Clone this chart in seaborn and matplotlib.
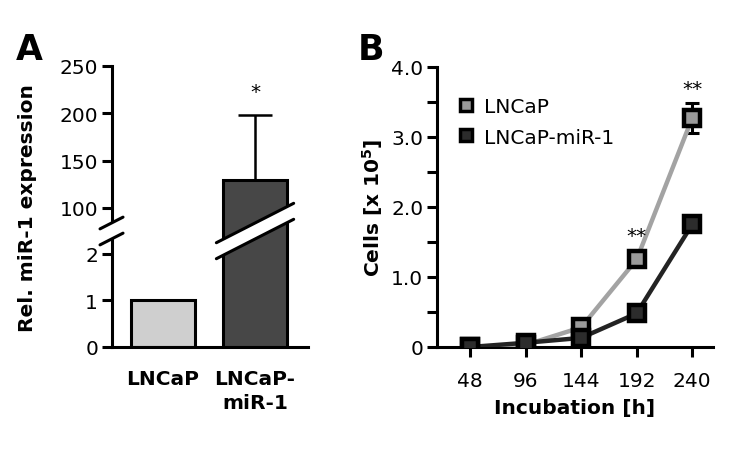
import matplotlib
matplotlib.use("Agg")
import matplotlib.pyplot as plt
from matplotlib.lines import Line2D
from matplotlib.patches import Polygon
from matplotlib.transforms import IdentityTransform
import numpy as np
import pandas as pd
import seaborn as sns

# panel A: relative miR-1 expression
categories = ["LNCaP", "LNCaP-\nmiR-1"]
expr = [1.0, 129.0]
expr_err_up = [0.0, 69.0]
bar_colors = ["#cfcfcf", "#474747"]

# panel B: proliferation
hours = [48, 96, 144, 192, 240]
lncap = [0.0, 0.03, 0.28, 1.25, 3.27]
lncap_err = [0.02, 0.02, 0.05, 0.10, 0.21]
mir1 = [0.0, 0.06, 0.13, 0.48, 1.75]
mir1_err = [0.02, 0.02, 0.04, 0.04, 0.06]
series_names = ["LNCaP", "LNCaP-miR-1"]
line_colors = ["#a3a3a3", "#232323"]
face_colors = ["#9a9a9a", "#2c2c2c"]

sns.set_style("ticks")
plt.rcParams['font.family'] = ['DejaVu Sans']
plt.rcParams.update({"text.color": "black", "axes.labelcolor": "black",
                     "axes.edgecolor": "black", "xtick.color": "black",
                     "ytick.color": "black"})
FS = 14.5
LW = 2.2

fig = plt.figure(figsize=(7.36, 4.52), dpi=100)

# ---------------- panel A (broken y axis) ----------------
axA_top = fig.add_axes([0.1522, 0.4867, 0.2663, 0.3651])
axA_bot = fig.add_axes([0.1522, 0.2301, 0.2663, 0.2566])

for ax in (axA_top, axA_bot):
    sns.barplot(x=categories, y=expr, hue=categories, palette=bar_colors,
                width=0.696, edgecolor="black", linewidth=LW, legend=False, ax=ax)
    ax.set_xlim(-0.554, 1.576)
    sns.despine(ax=ax)
    ax.tick_params(axis="y", direction="out", length=7, width=LW, labelsize=FS, pad=3)
    ax.spines["left"].set_linewidth(LW)
    ax.set_ylabel("")

axA_top.set_ylim(75.5, 250)
axA_top.set_yticks([100, 150, 200, 250])
axA_top.spines["bottom"].set_visible(False)
axA_top.set_xticks([])
axA_top.errorbar(1, expr[1], yerr=[[0], [expr_err_up[1]]], fmt="none",
                 ecolor="black", elinewidth=1.8, capsize=12, capthick=1.8, zorder=1)
axA_top.text(1, 213, "*", ha="center", va="bottom", fontsize=FS)

axA_bot.set_ylim(0, 2.49)
axA_bot.set_yticks([0, 1, 2])
axA_bot.spines["bottom"].set_linewidth(LW)
axA_bot.tick_params(axis="x", length=0, labelsize=FS, pad=16)
for lab in axA_bot.get_xticklabels():
    lab.set_fontweight("bold")
    lab.set_linespacing(1.35)
    lab.set_verticalalignment("top")

fig.text(28 / 736, 1 - 208 / 452, "Rel. miR-1 expression", rotation=90,
         ha="center", va="center", fontsize=FS, fontweight="bold")
fig.text(16 / 736, 1 - 50 / 452, "A", ha="left", va="center",
         fontsize=25, fontweight="bold")

# break marks
fig.canvas.draw()
_, yj = axA_bot.transAxes.transform((0, 1))
slope = 0.51
half = 8


def draw_break(x0, x1):
    xc = (x0 + x1) / 2
    ylo = [yj - half + slope * (x - xc) for x in (x0, x1)]
    yhi = [yj + half + slope * (x - xc) for x in (x0, x1)]
    poly = Polygon([(x0, ylo[0]), (x1, ylo[1]), (x1, yhi[1]), (x0, yhi[0])],
                   closed=True, facecolor="white", edgecolor="none",
                   transform=IdentityTransform(), zorder=10)
    fig.add_artist(poly)
    for ys in (ylo, yhi):
        fig.add_artist(Line2D([x0, x1], ys, color="black", lw=LW,
                              transform=IdentityTransform(), zorder=11))


xa = axA_bot.transAxes.transform((0, 0))[0]
draw_break(xa - 12, xa + 11)
xb0 = axA_bot.transData.transform((1 - 0.42, 0))[0]
xb1 = axA_bot.transData.transform((1 + 0.42, 0))[0]
draw_break(xb0, xb1)

# ---------------- panel B ----------------
axB = fig.add_axes([0.5938, 0.2301, 0.3750, 0.6195])

df = pd.DataFrame({
    "Incubation": hours * 2,
    "Cells": lncap + mir1,
    "Line": [series_names[0]] * len(hours) + [series_names[1]] * len(hours),
})

axB.errorbar(hours, lncap, yerr=lncap_err, fmt="none", ecolor="black",
             elinewidth=2.2, capsize=5, capthick=2.2, zorder=2)
axB.errorbar(hours, mir1, yerr=mir1_err, fmt="none", ecolor="black",
             elinewidth=2.2, capsize=5, capthick=2.2, zorder=2)
sns.lineplot(data=df, x="Incubation", y="Cells", hue="Line",
             palette=dict(zip(series_names, line_colors)), linewidth=3.2,
             legend=False, ax=axB, zorder=3)
for name, vals, fc in zip(series_names, [lncap, mir1], face_colors):
    axB.plot(hours, vals, linestyle="none", marker="s", markersize=11,
             markerfacecolor=fc, markeredgecolor="black", markeredgewidth=3.2,
             zorder=4)

axB.set_xlim(19.5, 258)
axB.set_ylim(0, 4.0)
axB.set_xticks(hours)
yt = np.arange(0, 4.01, 0.5)
axB.set_yticks(yt)
axB.set_yticklabels(["0" if v == 0 else (f"{v:.1f}" if v % 1 == 0 else "") for v in yt])
sns.despine(ax=axB)
for s in ("left", "bottom"):
    axB.spines[s].set_linewidth(LW)
axB.tick_params(direction="out", length=7, width=LW, labelsize=FS, pad=3)
axB.tick_params(axis="x", pad=10)
axB.set_xlabel("Incubation [h]", fontsize=FS, fontweight="bold", labelpad=6)
axB.set_ylabel("Cells [x 10$^\\mathbf{5}$]", fontsize=FS, fontweight="bold", labelpad=4)

axB.text(192, 1.45, "**", ha="center", va="bottom", fontsize=FS)
axB.text(240, 3.55, "**", ha="center", va="bottom", fontsize=FS)

handles = [Line2D([], [], linestyle="none", marker="s", markersize=8,
                  markerfacecolor=fc, markeredgecolor="black", markeredgewidth=2.5)
           for fc in face_colors]
axB.legend(handles, series_names, loc="upper left", bbox_to_anchor=(0.04, 0.92),
           frameon=False, fontsize=FS, handletextpad=0.4, handlelength=1.0,
           labelspacing=0.55, borderaxespad=0)
fig.text(358 / 736, 1 - 50 / 452, "B", ha="left", va="center",
         fontsize=25, fontweight="bold")

plt.savefig("out.png", dpi=100)
plt.close()
